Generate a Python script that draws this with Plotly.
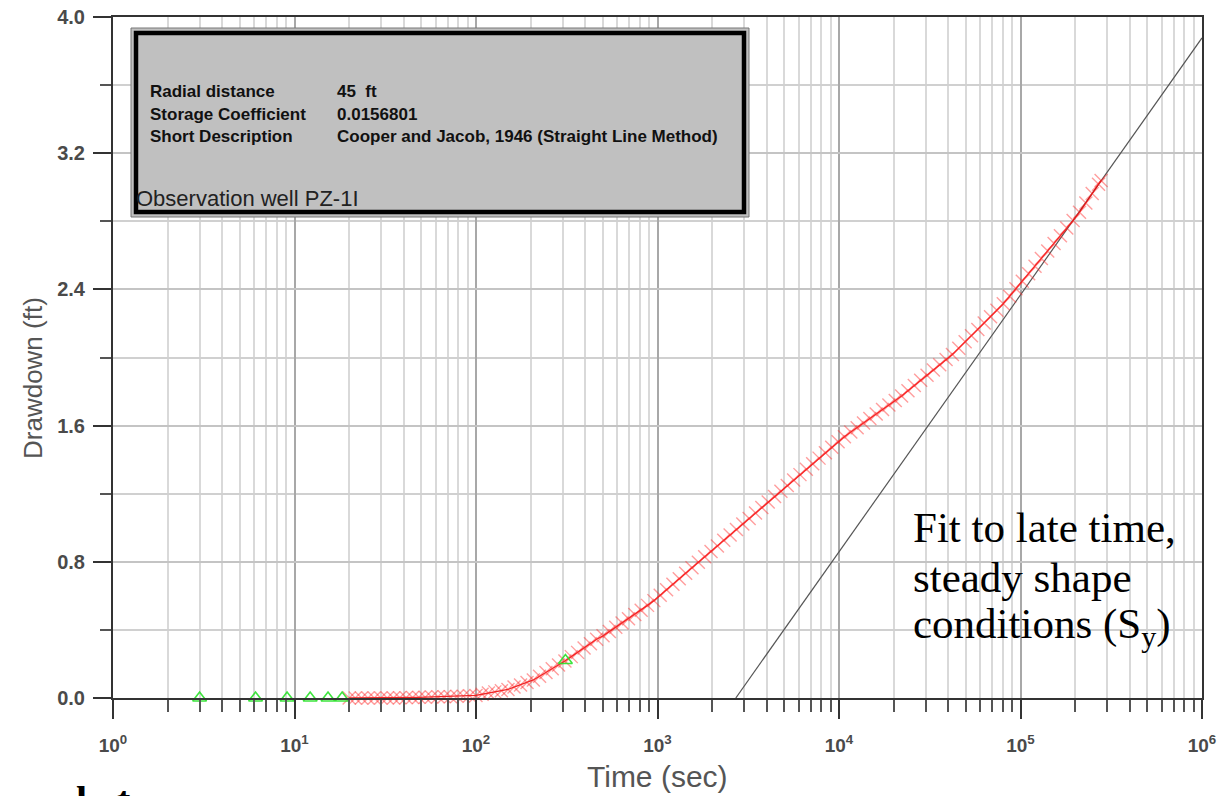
import plotly.graph_objects as go

# ---------------- data ----------------
time_sec = [
    20.0, 21.6, 23.4, 25.4, 27.5, 29.9, 32.4, 35.1, 38.0, 41.2,
    44.7, 48.4, 52.5, 56.9, 61.7, 66.8, 72.4, 78.5, 85.1, 92.3,
    100, 108, 117, 127, 138, 150, 162, 176, 191, 207,
    224, 243, 263, 285, 309, 335, 363, 394, 427, 462,
    501, 543, 589, 638, 692, 750, 813, 881, 955, 1035,
    1122, 1216, 1318, 1429, 1549, 1679, 1820, 1972, 2138, 2317,
    2512, 2723, 2951, 3199, 3467, 3758, 4074, 4416, 4786, 5188,
    5623, 6095, 6607, 7161, 7762, 8414, 9120, 9886, 10715, 11614,
    12589, 13646, 14791, 16032, 17378, 18836, 20417, 22131, 23988, 26002,
    28184, 30549, 33113, 35892, 38905, 42170, 45709, 49545, 53703, 58210,
    63096, 68391, 74131, 80353, 87096, 94406, 102329, 110917, 120226, 130317,
    141254, 153109, 165959, 179887, 194984, 211349, 229087, 248313, 269153, 278000,
]
drawdown_ft = [
    0.000, 0.000, 0.000, 0.000, 0.000, 0.000, 0.000, 0.000, 0.001, 0.002,
    0.003, 0.004, 0.005, 0.006, 0.007, 0.007, 0.008, 0.010, 0.011, 0.013,
    0.015, 0.022, 0.029, 0.036, 0.043, 0.050, 0.064, 0.077, 0.091, 0.106,
    0.128, 0.150, 0.172, 0.194, 0.217, 0.243, 0.268, 0.294, 0.319, 0.345,
    0.365, 0.390, 0.415, 0.440, 0.465, 0.490, 0.516, 0.544, 0.572, 0.603,
    0.636, 0.668, 0.700, 0.733, 0.765, 0.797, 0.829, 0.861, 0.893, 0.926,
    0.958, 0.990, 1.022, 1.054, 1.087, 1.119, 1.151, 1.183, 1.215, 1.248,
    1.280, 1.312, 1.344, 1.376, 1.409, 1.441, 1.473, 1.505, 1.535, 1.562,
    1.588, 1.615, 1.642, 1.668, 1.695, 1.721, 1.748, 1.774, 1.805, 1.835,
    1.866, 1.896, 1.927, 1.957, 1.988, 2.018, 2.055, 2.092, 2.128, 2.165,
    2.202, 2.240, 2.277, 2.316, 2.360, 2.404, 2.448, 2.492, 2.536, 2.581,
    2.626, 2.670, 2.715, 2.760, 2.805, 2.853, 2.908, 2.963, 3.018, 3.040,
]
early_time = [3.0, 6.1, 9.1, 12.2, 15.3, 18.3, 311]
early_drawdown = [0.0, 0.0, 0.0, 0.0, 0.0, 0.0, 0.22]

fit_time = [2700, 1.0e6]
fit_drawdown = [0.0, 3.877]

x_tick_vals = [1, 10, 100, 1e3, 1e4, 1e5, 1e6]
x_tick_text = ["10<sup>0</sup>", "10<sup>1</sup>", "10<sup>2</sup>", "10<sup>3</sup>",
               "10<sup>4</sup>", "10<sup>5</sup>", "10<sup>6</sup>"]
y_tick_vals = [0.0, 0.8, 1.6, 2.4, 3.2, 4.0]
y_tick_text = ["0.0", "0.8", "1.6", "2.4", "3.2", "4.0"]

info_labels = ["Radial distance", "Storage Coefficient", "Short Description"]
info_values = ["45  ft", "0.0156801", "Cooper and Jacob, 1946 (Straight Line Method)"]
fit_note = ["Fit to late time,", "steady shape", "conditions (S<sub>y</sub>)"]

# ---------------- layout helpers (pixel -> paper) ----------------
W, H = 1230, 796
L_PX, R_PX, T_PX, B_PX = 113, 1202, 17, 698


def px(x):
    return (x - L_PX) / (R_PX - L_PX)


def py(y):
    return (B_PX - y) / (B_PX - T_PX)


SANS = "Liberation Sans, Arial, sans-serif"
SERIF = "Liberation Serif, Times New Roman, serif"

minor_x = [m * 10 ** d for d in range(0, 6) for m in range(2, 10)]

fig = go.Figure()

fig.add_trace(go.Scatter(
    x=fit_time, y=fit_drawdown, mode="lines",
    line=dict(color="#555555", width=1.2), hoverinfo="skip", showlegend=False))

fig.add_trace(go.Scatter(
    x=time_sec, y=drawdown_ft, mode="lines+markers",
    line=dict(color="rgba(235,0,0,0.85)", width=1.3),
    marker=dict(symbol="x-thin", size=13,
                line=dict(color="rgba(255,40,40,0.45)", width=1.4)),
    cliponaxis=False, showlegend=False))

fig.add_trace(go.Scatter(
    x=early_time, y=early_drawdown, mode="markers",
    marker=dict(symbol="triangle-up-open", size=12,
                color="rgba(40,225,40,0.9)", line=dict(width=1.6)),
    cliponaxis=False, showlegend=False))

fig.update_xaxes(
    type="log", range=[0, 6], automargin=False,
    tickmode="array", tickvals=x_tick_vals, ticktext=x_tick_text,
    ticks="outside", ticklen=19, tickwidth=2, tickcolor="#333333",
    ticklabelstandoff=10,
    tickfont=dict(family=SANS, size=19, color="#4a4a4a", weight="bold"),
    showgrid=True, gridcolor="#a8a8a8", gridwidth=1.5,
    showline=True, linecolor="#333333", linewidth=2, mirror=True,
    zeroline=False,
    minor=dict(tickmode="array", tickvals=minor_x, ticks="outside",
               ticklen=12, tickwidth=1.5, tickcolor="#555555",
               showgrid=True, gridcolor="#d9d9d9", gridwidth=1.5),
)
fig.update_yaxes(
    range=[0, 4.0], automargin=False,
    tickmode="array", tickvals=y_tick_vals, ticktext=y_tick_text,
    ticks="outside", ticklen=18, tickwidth=2, tickcolor="#333333",
    ticklabelstandoff=4,
    tickfont=dict(family=SANS, size=20, color="#4a4a4a", weight="bold"),
    showgrid=True, gridcolor="#c4c4c4", gridwidth=1.5,
    showline=True, linecolor="#333333", linewidth=2, mirror=True,
    zeroline=False,
    minor=dict(dtick=0.4, tick0=0, ticks="outside", ticklen=11, tickwidth=1.5,
               tickcolor="#555555", showgrid=True, gridcolor="#d0d0d0", gridwidth=1.5),
)

shapes = [
    dict(type="rect", xref="paper", yref="paper",
         x0=px(131), x1=px(749), y0=py(217), y1=py(28),
         line=dict(color="#777777", width=1), fillcolor="#c0c0c0", layer="above"),
    dict(type="rect", xref="paper", yref="paper",
         x0=px(136), x1=px(744), y0=py(212), y1=py(33),
         line=dict(color="#000000", width=4.5), fillcolor="rgba(0,0,0,0)", layer="above"),
]

annotations = []
for i, (lab, val) in enumerate(zip(info_labels, info_values)):
    yy = py(92 + 22 * i)
    annotations.append(dict(xref="paper", yref="paper", x=px(148), y=yy,
                            xanchor="left", yanchor="middle", showarrow=False,
                            text="<b>%s</b>" % lab,
                            font=dict(family=SANS, size=17, color="#111111")))
    annotations.append(dict(xref="paper", yref="paper", x=px(335), y=yy,
                            xanchor="left", yanchor="middle", showarrow=False,
                            text="<b>%s</b>" % val,
                            font=dict(family=SANS, size=17, color="#111111")))
annotations.append(dict(xref="paper", yref="paper", x=px(134), y=py(199),
                        xanchor="left", yanchor="middle", showarrow=False,
                        text="Observation well PZ-1I",
                        font=dict(family=SANS, size=22, color="#222222")))
annotations.append(dict(xref="paper", yref="paper", x=px(657), y=py(776),
                        xanchor="center", yanchor="middle", showarrow=False,
                        text="Time (sec)",
                        font=dict(family=SANS, size=30, color="#555555")))
annotations.append(dict(xref="paper", yref="paper", x=px(33), y=py(378),
                        xanchor="center", yanchor="middle", showarrow=False,
                        textangle=-90, text="Drawdown (ft)",
                        font=dict(family=SANS, size=26, color="#555555")))
for i, line in enumerate(fit_note):
    annotations.append(dict(xref="paper", yref="paper", x=px(911), y=py(527 + 50 * i),
                            xanchor="left", yanchor="middle", showarrow=False, align="left",
                            text=line,
                            font=dict(family=SERIF, size=43, color="#000000")))
annotations.append(dict(xref="paper", yref="paper", x=px(74), y=py(776),
                        xanchor="left", yanchor="top", showarrow=False, align="left",
                        text="<b>l   t</b>",
                        font=dict(family=SERIF, size=40, color="#000000")))

fig.update_layout(
    width=W, height=H,
    margin=dict(l=L_PX, r=W - R_PX, t=T_PX, b=H - B_PX, pad=0, autoexpand=False),
    paper_bgcolor="white", plot_bgcolor="white",
    showlegend=False,
    shapes=shapes, annotations=annotations,
)

fig.write_html("out.html")
